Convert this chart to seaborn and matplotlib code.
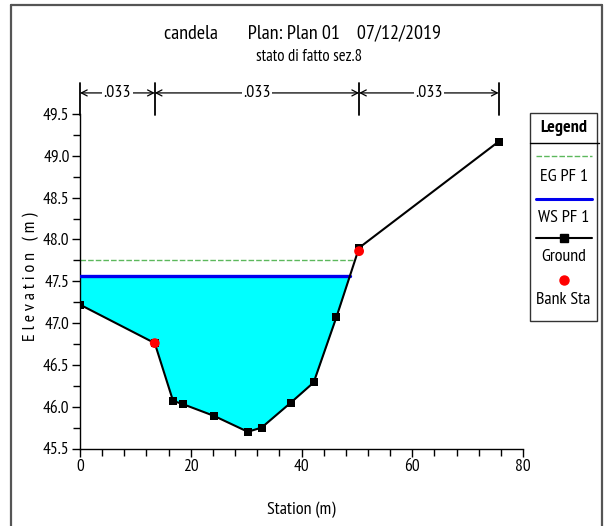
import numpy as np
import pandas as pd
import matplotlib
matplotlib.use("Agg")
import matplotlib.pyplot as plt
import matplotlib.transforms as mtrans
from matplotlib import font_manager
from matplotlib.lines import Line2D
from matplotlib.patches import Rectangle
from matplotlib.ticker import MultipleLocator
import seaborn as sns

# ---------------- data ----------------
station = [0.0, 13.5, 16.8, 18.6, 24.2, 30.3, 32.8, 38.1, 42.2, 46.3, 50.4, 75.6]
elevation = [47.22, 46.76, 46.07, 46.03, 45.89, 45.70, 45.75, 46.05, 46.29, 47.07, 47.90, 49.17]
bank_station = [13.5, 50.4]
bank_elevation = [46.76, 47.86]
ws_elev = 47.56
eg_elev = 47.75
n_bounds = [0.0, 13.5, 50.4, 75.6]
n_values = [".033", ".033", ".033"]
x_ticks = [0, 20, 40, 60, 80]
y_ticks = [45.5, 46.0, 46.5, 47.0, 47.5, 48.0, 48.5, 49.0, 49.5]

# ---------------- style ----------------
sns.set_theme(style="white")
names = {f.name for f in font_manager.fontManager.ttflist}
fam = "DejaVu Sans"
for cand in ["Liberation Sans Narrow", "Arial Narrow", "PT Sans Narrow",
             "Archivo Narrow", "Roboto Condensed", "Pragati Narrow"]:
    if cand in names:
        fam = cand
        break
plt.rcParams["font.family"] = [fam, "DejaVu Sans"]

W, H = 605, 526
fig = plt.figure(figsize=(W / 100, H / 100), dpi=100)

def fx(px):
    return px / W

def fy(py):
    return 1 - py / H

ax = fig.add_axes([fx(80), fy(448.5), fx(523) - fx(80), fy(114) - fy(448.5)])

df = pd.DataFrame({"Station": station, "Elevation": elevation})
st = np.array(station)
el = np.array(elevation)

# water fill
ax.fill_between(st, el, ws_elev, where=el <= ws_elev, interpolate=True,
                color="#00FFFF", linewidth=0, zorder=1)

imin = int(np.argmin(el))
ws_end = np.interp(ws_elev, el[imin:], st[imin:])
eg_end = np.interp(eg_elev, el[imin:], st[imin:])

ax.plot([st[0], eg_end], [eg_elev, eg_elev], color="#5cb85c", lw=1.0,
        ls=(0, (4, 1.5)), zorder=2)
ax.plot([st[0], ws_end], [ws_elev, ws_elev], color="#0000EE", lw=2.4, zorder=3)

sns.lineplot(data=df, x="Station", y="Elevation", ax=ax, color="black", lw=1.5,
             marker="s", markersize=6, markeredgewidth=0, sort=False,
             estimator=None, zorder=4)
sns.scatterplot(x=bank_station, y=bank_elevation, ax=ax, color="red", s=50,
                marker="o", edgecolor="none", zorder=5)

ax.set_xlim(0, 80)
ax.set_ylim(45.5, 49.5)
ax.set_xticks(x_ticks)
ax.set_yticks(y_ticks)
ax.set_yticklabels([f"{v:.1f}" for v in y_ticks])
ax.xaxis.set_minor_locator(MultipleLocator(4))
ax.yaxis.set_minor_locator(MultipleLocator(0.25))
ax.tick_params(which="both", direction="out", color="black", bottom=True, left=True,
               labelsize=12.5, pad=1.5, labelcolor="black")
ax.tick_params(which="major", length=6, width=1)
ax.tick_params(which="minor", length=5, width=1)
for s in ["top", "right"]:
    ax.spines[s].set_visible(False)
for s in ["left", "bottom"]:
    ax.spines[s].set_color("black")
    ax.spines[s].set_linewidth(1.0)
ax.set_xlabel("")
ax.set_ylabel("")
ax.patch.set_alpha(0)

# Manning's n annotations
tr = mtrans.blended_transform_factory(ax.transData, ax.transAxes)
for b in n_bounds:
    ax.add_line(Line2D([b, b], [0.997, 1.093], transform=tr, color="black",
                       lw=1.3, clip_on=False))
for i, lab in enumerate(n_values):
    a, b = n_bounds[i], n_bounds[i + 1]
    ax.annotate("", xy=(b, 1.063), xytext=(a, 1.063), xycoords=tr, textcoords=tr,
                arrowprops=dict(arrowstyle="<->,head_length=0.35,head_width=0.18",
                                color="black", lw=0.9, shrinkA=0, shrinkB=0),
                annotation_clip=False)
    ax.text((a + b) / 2, 1.063, lab, transform=tr, ha="center", va="center",
            fontsize=13, color="black",
            bbox=dict(facecolor="white", edgecolor="none", pad=1.0))

# titles and labels
fig.text(fx(303), fy(33), "candela       Plan: Plan 01    07/12/2019", ha="center",
         va="center", fontsize=14.5, color="black")
fig.text(fx(309), fy(57), "stato di fatto sez.8", ha="center", va="center",
         fontsize=12, color="black")
fig.text(fx(31), fy(277), "E l e v a t i o n   ( m )", ha="center", va="center",
         rotation=90, fontsize=13, color="black")
fig.text(fx(301), fy(510), "Station (m)", ha="center", va="center",
         fontsize=13, color="black")

# outer frame
for xs, ys in [([11, 11], [5, 530]), ([11, 602], [5, 5]), ([602, 602], [5, 530])]:
    fig.add_artist(Line2D([fx(v) for v in xs], [fy(v) for v in ys], color="#555555",
                          lw=1.6, transform=fig.transFigure))

# legend box
lx0, ly0, lw_, lh_ = 530, 113, 67, 208
lax = fig.add_axes([fx(lx0), fy(ly0 + lh_), lw_ / W, lh_ / H])
lax.set_xlim(0, lw_)
lax.set_ylim(lh_, 0)
lax.axis("off")
lax.add_patch(Rectangle((0, 0), lw_, lh_, fill=False, edgecolor="#333333", lw=1.0,
                        clip_on=False))
lax.add_line(Line2D([0, lw_ + 2], [30, 30], color="black", lw=1.0, clip_on=False))
lax.text(lw_ / 2, 15, "Legend", ha="center", va="center", fontsize=13,
         fontweight="bold", color="black")
lax.add_line(Line2D([6, 62], [43, 43], color="#5cb85c", lw=1.0, ls=(0, (4, 1.5))))
lax.text(lw_ / 2, 64, "EG PF 1", ha="center", va="center", fontsize=13, color="black")
lax.add_line(Line2D([6, 62], [86, 86], color="#0000EE", lw=2.2))
lax.text(lw_ / 2, 105, "WS PF 1", ha="center", va="center", fontsize=13, color="black")
lax.add_line(Line2D([6, 62], [125, 125], color="black", lw=1.5))
lax.add_line(Line2D([34], [125], color="black", marker="s", markersize=6, lw=0))
lax.text(lw_ / 2, 144, "Ground", ha="center", va="center", fontsize=13, color="black")
lax.add_line(Line2D([34], [167], color="red", marker="o", markersize=6.5, lw=0))
lax.text(lw_ / 2, 187, "Bank Sta", ha="center", va="center", fontsize=13, color="black")

fig.savefig("out.png", dpi=100)
